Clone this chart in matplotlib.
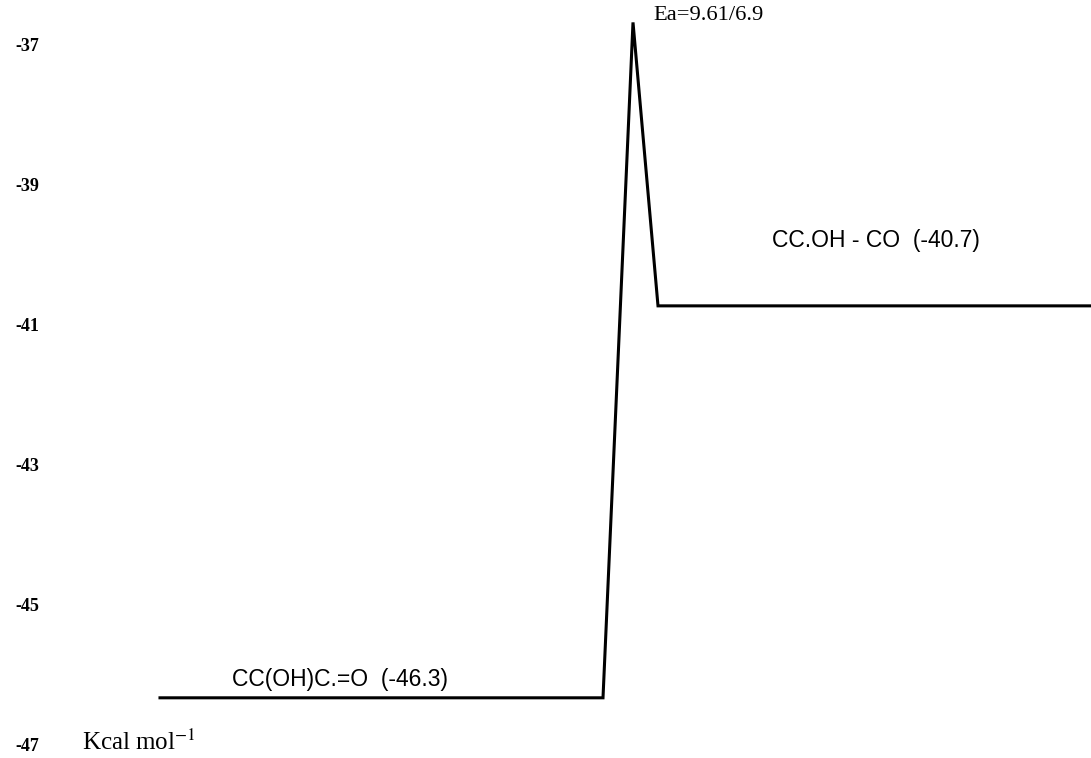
import matplotlib
matplotlib.use("Agg")
import matplotlib.pyplot as plt
import matplotlib.transforms as mtransforms

# Reaction coordinate (arbitrary units) and energy (kcal/mol)
reaction_coord = [160, 603, 633, 658, 1091]
energy = [-46.3, -46.3, -36.65, -40.7, -40.7]

ytick_values = [-37, -39, -41, -43, -45, -47]
ytick_labels = ["-37", "-39", "-41", "-43", "-45", "-47"]

reactant_label = "CC(OH)C.=O  (-46.3)"
product_label = "CC.OH - CO  (-40.7)"
barrier_label = "Ea=9.61/6.9"
unit_label = "Kcal mol$^{-1}$"

plt.rcParams["mathtext.fontset"] = "stix"

fig = plt.figure(figsize=(10.91, 7.58), dpi=100)
ax = fig.add_axes([0, 0, 1, 1])
ax.set_xlim(0, 1091)
ax.set_ylim(-47.16, -36.33)
ax.axis("off")

ax.plot(reaction_coord, energy, color="black", linewidth=2.2, solid_joinstyle="miter")

# y tick labels drawn as text at the left edge
trans = mtransforms.blended_transform_factory(ax.transAxes, ax.transData)
for val, lab in zip(ytick_values, ytick_labels):
    ax.text(0.014, val, lab, transform=trans, ha="left", va="center",
            fontsize=13, fontweight="bold", family="Liberation Serif")

ax.text(232, -46.04, reactant_label, fontsize=16.5, family="Liberation Sans",
        ha="left", va="center")
ax.text(772, -39.76, product_label, fontsize=16.5, family="Liberation Sans",
        ha="left", va="center")
ax.text(653, -36.55, barrier_label, fontsize=16.2, family="Liberation Serif",
        ha="left", va="center")
ax.text(82, -46.93, unit_label, fontsize=18, family="Liberation Serif",
        ha="left", va="center")

plt.savefig("out.png", dpi=100)
